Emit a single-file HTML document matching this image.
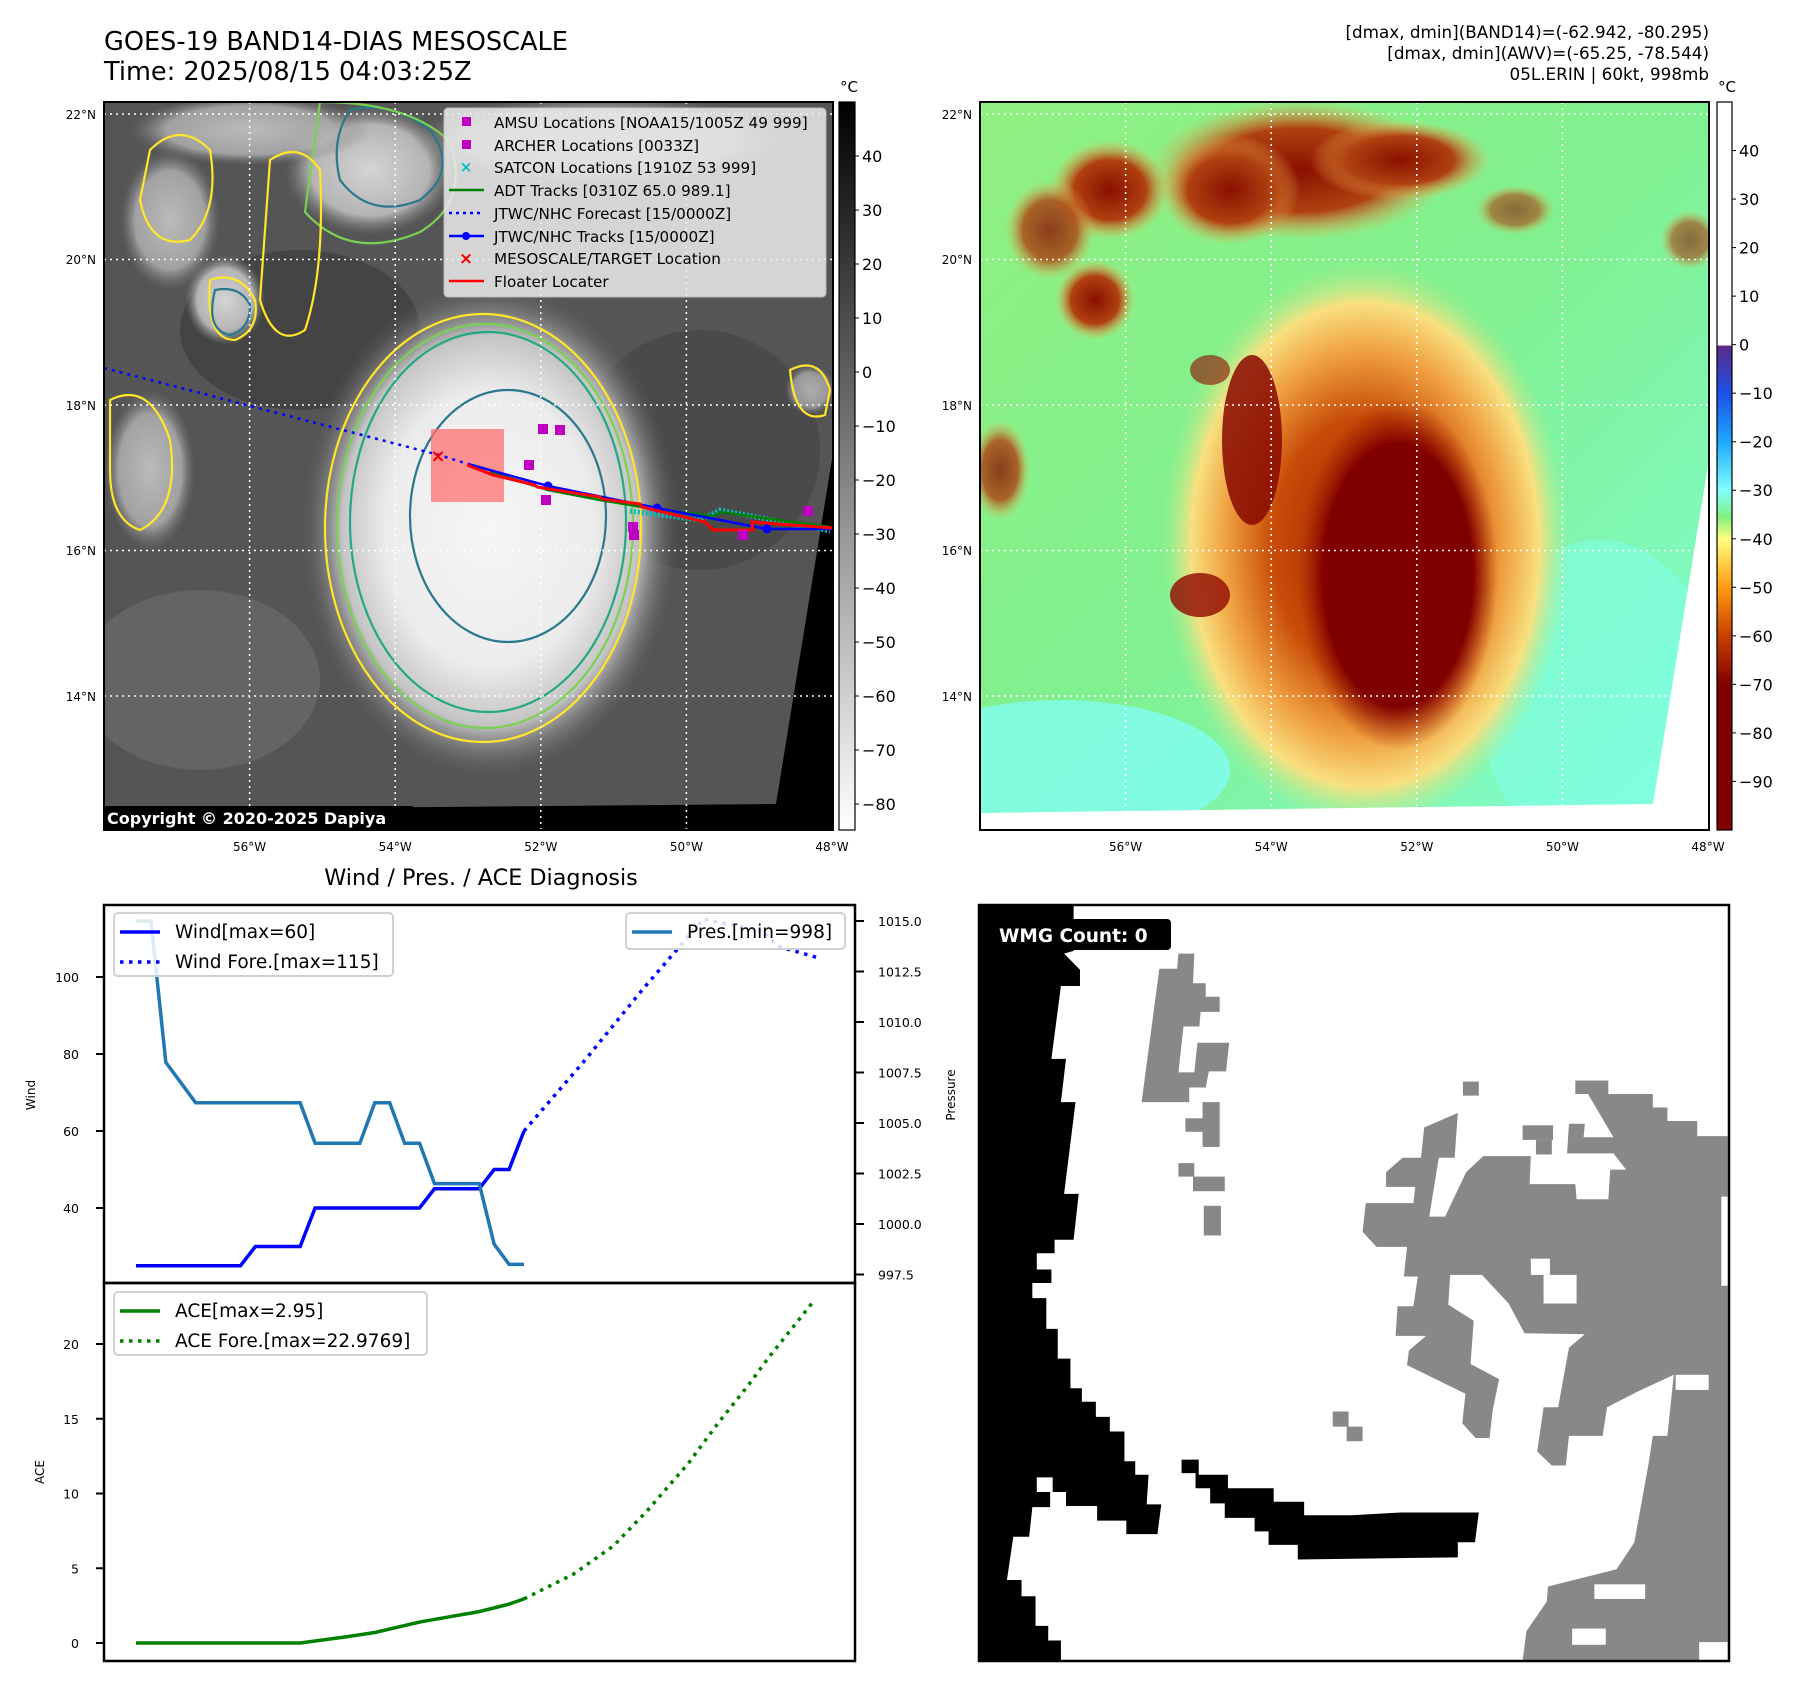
<!DOCTYPE html>
<html><head><meta charset="utf-8">
<style>
html,body{margin:0;padding:0;background:#fff;}
svg{display:block;font-family:"DejaVu Sans","Liberation Sans",sans-serif;}
</style></head>
<body>
<svg id="fig" width="1797" height="1690" viewBox="0 0 1797 1690" xmlns="http://www.w3.org/2000/svg">
<defs>
  <clipPath id="clip1"><rect x="104" y="102" width="729" height="728"/></clipPath>
  <clipPath id="clip2"><rect x="980" y="102" width="729" height="728"/></clipPath>
  <clipPath id="clip3"><rect x="979" y="905" width="750" height="756"/></clipPath>
  <radialGradient id="stormGray" cx="0.5" cy="0.5" r="0.5">
    <stop offset="0" stop-color="#f6f6f6"/><stop offset="0.55" stop-color="#ececec"/>
    <stop offset="0.78" stop-color="#c4c4c4"/><stop offset="1" stop-color="#5a5a5a" stop-opacity="0"/>
  </radialGradient>
  <radialGradient id="stormColor" cx="0.5" cy="0.5" r="0.5">
    <stop offset="0" stop-color="#a02000"/><stop offset="0.45" stop-color="#c84c08"/>
    <stop offset="0.68" stop-color="#f0a040"/><stop offset="0.85" stop-color="#f8e080"/>
    <stop offset="1" stop-color="#a8f090" stop-opacity="0"/>
  </radialGradient>
  <radialGradient id="coreColor" cx="0.5" cy="0.5" r="0.5">
    <stop offset="0" stop-color="#800000"/><stop offset="0.75" stop-color="#800000"/>
    <stop offset="1" stop-color="#a02000" stop-opacity="0"/>
  </radialGradient>
  <radialGradient id="cloudGray" cx="0.5" cy="0.5" r="0.5">
    <stop offset="0" stop-color="#d4d4d4"/><stop offset="0.7" stop-color="#b4b4b4"/><stop offset="1" stop-color="#7a7a7a" stop-opacity="0"/>
  </radialGradient>
  <radialGradient id="cloudRed" cx="0.5" cy="0.5" r="0.5">
    <stop offset="0" stop-color="#8a1000"/><stop offset="0.6" stop-color="#b04010"/><stop offset="1" stop-color="#f0b050" stop-opacity="0"/>
  </radialGradient>
  <linearGradient id="cb1" x1="0" y1="0" x2="0" y2="1">
    <stop offset="0" stop-color="#000"/><stop offset="1" stop-color="#fff"/>
  </linearGradient>
  <linearGradient id="cb2" gradientUnits="userSpaceOnUse" x1="0" y1="102" x2="0" y2="830">
    <stop offset="0" stop-color="#fff"/><stop offset="0.334" stop-color="#fff"/>
    <stop offset="0.335" stop-color="#5a2a8a"/><stop offset="0.40" stop-color="#1e50e8"/>
    <stop offset="0.467" stop-color="#1ea8ff"/><stop offset="0.533" stop-color="#80ffff"/>
    <stop offset="0.57" stop-color="#80f080"/><stop offset="0.60" stop-color="#ffff80"/>
    <stop offset="0.667" stop-color="#ff9a10"/><stop offset="0.733" stop-color="#c84000"/>
    <stop offset="0.80" stop-color="#800000"/><stop offset="1" stop-color="#800000"/>
  </linearGradient>
  <linearGradient id="bgColor" x1="0" y1="0" x2="1" y2="1">
    <stop offset="0" stop-color="#90f080"/><stop offset="0.5" stop-color="#80f090"/><stop offset="1" stop-color="#80ffd8"/>
  </linearGradient>
</defs>

<text x="104" y="50" font-size="25.6">GOES-19 BAND14-DIAS MESOSCALE</text>
<text x="104" y="80" font-size="25.6">Time: 2025/08/15 04:03:25Z</text>
<g font-size="16.8" text-anchor="end">
  <text x="1709" y="38">[dmax, dmin](BAND14)=(-62.942, -80.295)</text>
  <text x="1709" y="59">[dmax, dmin](AWV)=(-65.25, -78.544)</text>
  <text x="1709" y="80">05L.ERIN | 60kt, 998mb</text>
</g>

<!-- MAP 1 -->
<g clip-path="url(#clip1)">
  <rect x="104" y="102" width="729" height="728" fill="#555"/>
  <ellipse cx="300" cy="330" rx="120" ry="80" fill="#444"/>
  <ellipse cx="700" cy="450" rx="120" ry="120" fill="#4a4a4a"/>
  <ellipse cx="200" cy="680" rx="120" ry="90" fill="#646464"/>
  <ellipse cx="370" cy="170" rx="85" ry="65" fill="url(#cloudGray)"/>
  <ellipse cx="250" cy="130" rx="120" ry="35" fill="url(#cloudGray)" opacity="0.8"/>
  <ellipse cx="170" cy="220" rx="50" ry="70" fill="url(#cloudGray)" opacity="0.8"/>
  <ellipse cx="225" cy="300" rx="40" ry="45" fill="url(#cloudGray)"/>
  <ellipse cx="600" cy="140" rx="190" ry="45" fill="url(#cloudGray)" opacity="0.7"/>
  <ellipse cx="150" cy="470" rx="45" ry="80" fill="url(#cloudGray)" opacity="0.8"/>
  <ellipse cx="810" cy="390" rx="25" ry="25" fill="url(#cloudGray)" opacity="0.7"/>
  <ellipse cx="490" cy="530" rx="190" ry="250" fill="url(#stormGray)"/>
  <g fill="none" stroke-width="2.2">
    <ellipse cx="483" cy="528" rx="158" ry="214" stroke="#ffe62a"/>
    <ellipse cx="485" cy="526" rx="148" ry="202" stroke="#7ad151"/>
    <ellipse cx="488" cy="522" rx="138" ry="190" stroke="#22a884"/>
    <ellipse cx="508" cy="516" rx="98" ry="126" stroke="#2a788e"/>
    <path d="M350 110 q40 -10 80 20 q30 40 -10 70 q-50 20 -80 -20 q-10 -40 10 -70z" stroke="#2a788e"/>
    <path d="M320 102 q90 0 130 40 q20 60 -30 90 q-70 30 -115 -20z" stroke="#7ad151"/>
    <path d="M150 150 q30 -30 60 0 q10 60 -20 90 q-40 10 -50 -40z" stroke="#ffe62a"/>
    <path d="M270 160 q30 -20 50 10 q5 100 -15 160 q-30 20 -45 -30z" stroke="#ffe62a"/>
    <path d="M210 280 q30 -10 45 20 q5 30 -20 40 q-30 0 -25 -60z" stroke="#ffe62a"/>
    <path d="M215 290 q25 -5 35 15 q0 25 -20 30 q-25 -5 -15 -45z" stroke="#2a788e"/>
    <path d="M110 400 q40 -20 60 40 q10 70 -30 90 q-30 -10 -30 -60z" stroke="#ffe62a"/>
    <path d="M790 370 q30 -15 40 20 l-5 25 q-30 10 -35 -45z" stroke="#ffe62a"/>
  </g>
  <polygon points="832,459 833,459 833,830 104,830 104,810 776,804" fill="#000"/>
  <g stroke="#fff" stroke-width="1.5" stroke-dasharray="2,4">
    <line x1="249.6" y1="102" x2="249.6" y2="830"/><line x1="395.2" y1="102" x2="395.2" y2="830"/>
    <line x1="540.8" y1="102" x2="540.8" y2="830"/><line x1="686.4" y1="102" x2="686.4" y2="830"/>
    <line x1="104" y1="114" x2="833" y2="114"/><line x1="104" y1="259.5" x2="833" y2="259.5"/>
    <line x1="104" y1="405" x2="833" y2="405"/><line x1="104" y1="550.5" x2="833" y2="550.5"/>
    <line x1="104" y1="696" x2="833" y2="696"/>
  </g>
  <rect x="431" y="429" width="73" height="73" fill="#ff7070" opacity="0.75"/>
  <polyline points="104,368 439,455 468,464" fill="none" stroke="#0000ff" stroke-width="2.5" stroke-dasharray="3,5"/>
  <polyline points="630,511 700,520 720,510 830,531" fill="none" stroke="#00c0c0" stroke-width="5" stroke-dasharray="2,2"/>
  <polyline points="490,472 548,490 600,500 660,510 715,516 720,512 830,527" fill="none" stroke="#008000" stroke-width="2.5"/>
  <polyline points="468,464 548,486 657,508 767,529 832,529" fill="none" stroke="#0000ff" stroke-width="2.5"/>
  <g fill="#0000ff"><circle cx="548" cy="486" r="4.5"/><circle cx="657" cy="508" r="4.5"/><circle cx="767" cy="529" r="4.5"/></g>
  <polyline points="467,465 493,475 535,485 537,487 600,497 602,499 640,504 642,507 705,522 713,530 753,530 752,522 833,528" fill="none" stroke="#ff0000" stroke-width="3"/>
  <g fill="#c000c0">
    <rect x="538" y="424" width="10" height="10"/><rect x="555" y="425" width="10" height="10"/>
    <rect x="524" y="460" width="10" height="10"/><rect x="541" y="495" width="10" height="10"/>
    <rect x="628" y="522" width="10" height="10"/><rect x="629" y="530" width="10" height="10"/>
    <rect x="738" y="530" width="10" height="10"/><rect x="803" y="506" width="10" height="10"/>
  </g>
  <text x="438" y="462" font-size="18" font-weight="bold" fill="#ff0000" text-anchor="middle">×</text>
</g>
<rect x="104" y="102" width="729" height="728" fill="none" stroke="#000" stroke-width="2"/>
<g>
  <rect x="444" y="108" width="382" height="189" rx="4" fill="#ececec" opacity="0.85" stroke="#ccc"/>
  <g font-size="15.2">
    <rect x="462" y="117" width="9" height="9" fill="#c000c0"/><text x="494" y="128">AMSU Locations [NOAA15/1005Z 49 999]</text>
    <rect x="462" y="140" width="9" height="9" fill="#c000c0"/><text x="494" y="151">ARCHER Locations [0033Z]</text>
    <text x="466" y="172" fill="#00c0c0" text-anchor="middle" font-weight="bold" font-size="15">×</text><text x="494" y="173">SATCON Locations [1910Z 53 999]</text>
    <line x1="449" y1="190" x2="484" y2="190" stroke="#008000" stroke-width="2.5"/><text x="494" y="196">ADT Tracks [0310Z 65.0 989.1]</text>
    <line x1="449" y1="213" x2="484" y2="213" stroke="#0000ff" stroke-width="2.5" stroke-dasharray="3,4"/><text x="494" y="219">JTWC/NHC Forecast [15/0000Z]</text>
    <line x1="449" y1="236" x2="484" y2="236" stroke="#0000ff" stroke-width="2.5"/><circle cx="466" cy="236" r="4" fill="#0000ff"/><text x="494" y="242">JTWC/NHC Tracks [15/0000Z]</text>
    <text x="466" y="264" fill="#ff0000" text-anchor="middle" font-weight="bold" font-size="17">×</text><text x="494" y="264">MESOSCALE/TARGET Location</text>
    <line x1="449" y1="281" x2="484" y2="281" stroke="#ff0000" stroke-width="2.5"/><text x="494" y="287">Floater Locater</text>
  </g>
</g>
<g>
  <rect x="104" y="806" width="310" height="24" rx="3" fill="#000"/>
  <text x="107" y="824" font-size="16" font-weight="bold" fill="#fff">Copyright © 2020-2025 Dapiya</text>
</g>

<!-- MAP 2 -->
<g clip-path="url(#clip2)">
  <rect x="980" y="102" width="729" height="728" fill="url(#bgColor)"/>
  <ellipse cx="1060" cy="770" rx="170" ry="70" fill="#80ffff" opacity="0.7"/>
  <ellipse cx="1600" cy="700" rx="120" ry="160" fill="#80ffe8" opacity="0.6"/>
  <ellipse cx="1300" cy="170" rx="150" ry="70" fill="url(#cloudRed)"/>
  <ellipse cx="1400" cy="160" rx="90" ry="40" fill="url(#cloudRed)"/>
  <ellipse cx="1230" cy="190" rx="70" ry="55" fill="url(#cloudRed)"/>
  <ellipse cx="1110" cy="190" rx="60" ry="50" fill="url(#cloudRed)"/>
  <ellipse cx="1095" cy="300" rx="40" ry="40" fill="url(#cloudRed)"/>
  <ellipse cx="1050" cy="230" rx="45" ry="50" fill="url(#cloudRed)" opacity="0.8"/>
  <ellipse cx="1000" cy="470" rx="30" ry="50" fill="url(#cloudRed)" opacity="0.8"/>
  <ellipse cx="1515" cy="210" rx="40" ry="25" fill="url(#cloudRed)" opacity="0.6"/>
  <ellipse cx="1690" cy="240" rx="30" ry="30" fill="url(#cloudRed)" opacity="0.6"/>
  <ellipse cx="1365" cy="545" rx="205" ry="285" fill="url(#stormColor)"/>
  <ellipse cx="1398" cy="575" rx="100" ry="175" fill="url(#coreColor)"/>
  <ellipse cx="1252" cy="440" rx="30" ry="85" fill="#880800" opacity="0.85"/>
  <ellipse cx="1200" cy="595" rx="30" ry="22" fill="#900800" opacity="0.8"/>
  <ellipse cx="1210" cy="370" rx="20" ry="15" fill="#900800" opacity="0.6"/>
  <polygon points="1709,459 1710,459 1710,830 980,830 980,813 1653,804" fill="#fff"/>
  <g stroke="#fff" stroke-width="1.5" stroke-dasharray="2,4">
    <line x1="1125.6" y1="102" x2="1125.6" y2="830"/><line x1="1271.2" y1="102" x2="1271.2" y2="830"/>
    <line x1="1416.8" y1="102" x2="1416.8" y2="830"/><line x1="1562.4" y1="102" x2="1562.4" y2="830"/>
    <line x1="980" y1="114" x2="1709" y2="114"/><line x1="980" y1="259.5" x2="1709" y2="259.5"/>
    <line x1="980" y1="405" x2="1709" y2="405"/><line x1="980" y1="550.5" x2="1709" y2="550.5"/>
    <line x1="980" y1="696" x2="1709" y2="696"/>
  </g>
</g>
<rect x="980" y="102" width="729" height="728" fill="none" stroke="#000" stroke-width="2"/>

<g font-size="12">
  <g text-anchor="end">
    <text x="96" y="119">22°N</text><text x="96" y="264">20°N</text><text x="96" y="410">18°N</text><text x="96" y="555">16°N</text><text x="96" y="701">14°N</text>
    <text x="972" y="119">22°N</text><text x="972" y="264">20°N</text><text x="972" y="410">18°N</text><text x="972" y="555">16°N</text><text x="972" y="701">14°N</text>
  </g>
  <g text-anchor="middle">
    <text x="249.6" y="851">56°W</text><text x="395.2" y="851">54°W</text><text x="540.8" y="851">52°W</text><text x="686.4" y="851">50°W</text><text x="832" y="851">48°W</text>
    <text x="1125.6" y="851">56°W</text><text x="1271.2" y="851">54°W</text><text x="1416.8" y="851">52°W</text><text x="1562.4" y="851">50°W</text><text x="1708" y="851">48°W</text>
  </g>
</g>

<g>
  <rect x="839" y="102" width="16" height="728" fill="url(#cb1)" stroke="#000" stroke-width="1.2"/>
  <text x="849" y="92" font-size="15" text-anchor="middle">°C</text>
  <g id="cb1ticks" font-size="16"></g>
</g>
<g>
  <rect x="1717" y="102" width="15" height="728" fill="url(#cb2)" stroke="#000" stroke-width="1.2"/>
  <text x="1727" y="92" font-size="15" text-anchor="middle">°C</text>
  <g id="cb2ticks" font-size="16"></g>
</g>

<text x="481" y="885" font-size="22.3" text-anchor="middle">Wind / Pres. / ACE Diagnosis</text>

<g id="ts"></g>

<!-- WMG panel -->
<g clip-path="url(#clip3)">
  <rect x="979" y="905" width="750" height="756" fill="#fff"/>
  <svg x="979" y="905" width="750" height="756" viewBox="281 100 1181 1400" preserveAspectRatio="none">
    <polygon fill="#888" points="1220,425 1272,425 1272,450 1342,450 1342,475 1365,475 1365,500 1412,500 1412,528 1460,528 1460,1500 1137,1500 1143,1445 1175,1390 1177,1362 1285,1330 1313,1280 1335,1137 1342,1083 1365,1083 1375,970 1320,1000 1270,1030 1263,1083 1210,1083 1205,1138 1183,1138 1160,1112 1170,1030 1193,1030 1210,920 1235,895 1140,893 1115,838 1073,785 1023,785 1020,840 1060,870 1055,950 1100,978 1090,1035 1085,1087 1063,1087 1042,1060 1047,1005 1000,978 955,952 958,925 985,898 937,898 940,843 965,843 972,788 950,788 955,733 907,733 885,705 890,652 965,652 968,622 922,622 922,595 948,568 977,568 982,512 1035,485 1030,568 1005,568 990,677 1015,677 1048,595 1075,565 1150,565 1148,617 1220,617 1222,645 1272,645 1275,590 1300,590 1280,560 1207,560 1210,505 1235,505 1233,530 1280,530 1240,450 1220,450"/>
    <g fill="#888">
      <polygon points="595,190 620,190 618,245 638,245 638,270 660,270 660,298 630,298 628,325 603,325 595,410 620,410 625,355 675,355 670,408 643,408 638,438 612,438 612,465 537,465 565,218 593,218"/>
      <rect x="633" y="465" width="27" height="83"/><rect x="606" y="495" width="29" height="25"/>
      <rect x="595" y="578" width="25" height="25"/><rect x="618" y="603" width="50" height="27"/>
      <rect x="635" y="657" width="27" height="55"/><rect x="1043" y="427" width="25" height="26"/>
      <rect x="838" y="1038" width="25" height="28"/><rect x="860" y="1066" width="25" height="27"/>
      <rect x="1137" y="508" width="48" height="27"/><rect x="1158" y="535" width="25" height="27"/>
    </g>
    <g fill="#fff">
      <rect x="1150" y="755" width="30" height="30"/><rect x="1170" y="785" width="52" height="53"/>
      <rect x="1250" y="1358" width="80" height="27"/><rect x="1215" y="1440" width="53" height="30"/>
      <rect x="1378" y="970" width="52" height="28"/><rect x="1415" y="1465" width="45" height="35"/>
      <rect x="1450" y="640" width="12" height="165"/>
    </g>
    <polygon fill="#000" points="281,100 430,100 430,185 415,190 440,220 440,250 410,250 395,385 418,385 410,465 433,465 415,635 438,635 430,720 400,720 400,745 372,745 372,775 395,775 395,800 365,800 365,828 387,828 387,885 405,885 405,940 425,940 425,995 443,995 443,1020 465,1020 465,1048 487,1048 487,1075 510,1075 510,1130 527,1130 527,1155 548,1155 545,1210 568,1210 562,1265 513,1265 513,1240 467,1240 467,1213 418,1213 418,1187 397,1187 397,1160 372,1160 372,1187 393,1187 393,1215 365,1215 360,1270 335,1270 325,1350 348,1350 348,1380 370,1380 370,1435 390,1435 390,1462 410,1462 410,1500 281,1500"/>
    <polygon fill="#000" points="600,1127 627,1127 627,1155 673,1155 673,1180 745,1180 745,1205 793,1205 793,1230 868,1230 945,1225 1068,1225 1062,1280 1035,1280 1035,1308 783,1312 783,1285 737,1285 737,1260 715,1260 715,1235 668,1235 668,1208 645,1208 645,1180 622,1180 622,1152 600,1152"/>
  </svg>
</g>
<rect x="979" y="905" width="750" height="756" fill="none" stroke="#000" stroke-width="2.5"/>
<g>
  <rect x="991" y="919" width="180" height="31" rx="4" fill="#000"/>
  <text x="999" y="942" font-size="18.5" font-weight="bold" fill="#fff">WMG Count: 0</text>
</g>

<script>
// ---- time-series data ----
const windIdx = [0,1,2,3,4,5,6,7,8,9,10,11,12,13,14,15,16,17,18,19,20,21,22,23,24,25,26];
const windVals = [25,25,25,25,25,25,25,25,30,30,30,30,40,40,40,40,40,40,40,40,45,45,45,45,50,50,60];
const foreIdx = [26,30,34,38,42,43,45.7];
const foreVals = [60,78,97,115,112,108,105];
const presVals = [1015,1015,1008,1007,1006,1006,1006,1006,1006,1006,1006,1006,1004,1004,1004,1004,1006,1006,1004,1004,1002,1002,1002,1002,999,998,998];
const aceIdx = [0,11,14,16,19,21,23,25,26];
const aceVals = [0,0,0.4,0.7,1.4,1.75,2.1,2.6,2.95];
const aceForeIdx = [26,29.3,32,34.3,37,39,41,42.4,44,45.5];
const aceForeVals = [2.95,4.6,6.5,8.9,12,14.7,17.2,19.1,21.1,22.98];
const windTicks = [40,60,80,100];
const presTicks = [997.5,1000.0,1002.5,1005.0,1007.5,1010.0,1012.5,1015.0];
const aceTicks = [0,5,10,15,20];
const cb1Ticks = [40,30,20,10,0,-10,-20,-30,-40,-50,-60,-70,-80];
const cb2Ticks = [40,30,20,10,0,-10,-20,-30,-40,-50,-60,-70,-80,-90];

const NS = 'http://www.w3.org/2000/svg';
const xS = i => 136 + i * (524 - 136) / 26;
const yW = w => 1208 - (w - 40) * 3.85;
const yP = p => 921 + (1015 - p) * 20.2;
const yA = a => 1643 - a * 14.95;
const ycb1 = v => 156 + (40 - v) * 5.4;
const ycb2 = v => 102 + (50 - v) * 4.853;

function mk(tag, attrs, parent) {
  const e = document.createElementNS(NS, tag);
  for (const k in attrs) e.setAttribute(k, attrs[k]);
  parent.appendChild(e);
  return e;
}
function pts(xs, ys, fx, fy) { return xs.map((x, k) => fx(x) + ',' + fy(ys[k])).join(' '); }

const c1 = document.getElementById('cb1ticks');
cb1Ticks.forEach(v => {
  mk('line', {x1: 855, x2: 859, y1: ycb1(v), y2: ycb1(v), stroke: '#000'}, c1);
  const t = mk('text', {x: 862, y: ycb1(v) + 6}, c1);
  
  
  t.textContent = v < 0 ? '\u2212' + (-v) : String(v);
});
const c2 = document.getElementById('cb2ticks');
cb2Ticks.forEach(v => {
  mk('line', {x1: 1732, x2: 1736, y1: ycb2(v), y2: ycb2(v), stroke: '#000'}, c2);
  const t = mk('text', {x: 1739, y: ycb2(v) + 6}, c2);
  
  
  t.textContent = v < 0 ? '\u2212' + (-v) : String(v);
});

const ts = document.getElementById('ts');
mk('rect', {x: 104, y: 905, width: 751, height: 378, fill: 'none', stroke: '#000', 'stroke-width': 2.5}, ts);
mk('rect', {x: 104, y: 1283, width: 751, height: 378, fill: 'none', stroke: '#000', 'stroke-width': 2.5}, ts);

windTicks.forEach(v => {
  mk('line', {x1: 96, x2: 104, y1: yW(v), y2: yW(v), stroke: '#000', 'stroke-width': 2}, ts);
  const t = mk('text', {x: 79, y: yW(v) + 5, 'font-size': 12.5, 'text-anchor': 'end'}, ts);
  
  
  t.textContent = v;
});
presTicks.forEach(v => {
  mk('line', {x1: 855, x2: 864, y1: yP(v), y2: yP(v), stroke: '#000', 'stroke-width': 2}, ts);
  const t = mk('text', {x: 878, y: yP(v) + 5, 'font-size': 12.5}, ts);
  
  
  t.textContent = v.toFixed(1);
});
aceTicks.forEach(v => {
  mk('line', {x1: 96, x2: 104, y1: yA(v), y2: yA(v), stroke: '#000', 'stroke-width': 2}, ts);
  const t = mk('text', {x: 79, y: yA(v) + 5, 'font-size': 12.5, 'text-anchor': 'end'}, ts);
  
  
  t.textContent = v;
});
const at1 = mk('text', {x: 35, y: 1095, 'font-size': 12, 'text-anchor': 'middle', transform: 'rotate(-90 35 1095)'}, ts);


at1.textContent = 'Wind';
const at2 = mk('text', {x: 955, y: 1095, 'font-size': 12, 'text-anchor': 'middle', transform: 'rotate(-90 955 1095)'}, ts);


at2.textContent = 'Pressure';
const at3 = mk('text', {x: 44, y: 1472, 'font-size': 12, 'text-anchor': 'middle', transform: 'rotate(-90 44 1472)'}, ts);


at3.textContent = 'ACE';

const wl = mk('polyline', {points: pts(windIdx, windVals, xS, yW), fill: 'none', stroke: '#0000ff', 'stroke-width': 3.5}, ts);


const wf = mk('polyline', {points: pts(foreIdx, foreVals, xS, yW), fill: 'none', stroke: '#0000ff', 'stroke-width': 3.5, 'stroke-dasharray': '3.5,5.5'}, ts);


const pl = mk('polyline', {points: pts(windIdx, presVals, xS, yP), fill: 'none', stroke: '#1f77b4', 'stroke-width': 3.5}, ts);


const al = mk('polyline', {points: pts(aceIdx, aceVals, xS, yA), fill: 'none', stroke: '#008000', 'stroke-width': 3.5}, ts);


const af = mk('polyline', {points: pts(aceForeIdx, aceForeVals, xS, yA), fill: 'none', stroke: '#008000', 'stroke-width': 3.5, 'stroke-dasharray': '3.5,5.5'}, ts);



function legend(x, y, w, h, items, name) {
  const g = mk('g', {}, ts);
  
  
  mk('rect', {x: x, y: y, width: w, height: h, rx: 4, fill: '#fff', 'fill-opacity': 0.85, stroke: '#d0d0d0', 'stroke-width': 2}, g);
  items.forEach((it, k) => {
    const cy = y + 19 + k * 30;
    const a = {x1: x + 6, x2: x + 46, y1: cy, y2: cy, stroke: it.c, 'stroke-width': 3.5};
    if (it.d) a['stroke-dasharray'] = '3.5,5.5';
    mk('line', a, g);
    const t = mk('text', {x: x + 61, y: cy + 6, 'font-size': 18.5}, g);
    t.textContent = it.t;
  });
}
legend(114, 913, 279, 63, [{c: '#0000ff', t: 'Wind[max=60]'}, {c: '#0000ff', t: 'Wind Fore.[max=115]', d: 1}], 'wind-legend');
legend(626, 913, 219, 36, [{c: '#1f77b4', t: 'Pres.[min=998]'}], 'pressure-legend');
legend(114, 1292, 313, 63, [{c: '#008000', t: 'ACE[max=2.95]'}, {c: '#008000', t: 'ACE Fore.[max=22.9769]', d: 1}], 'ace-legend');
</script>
</svg>
</body></html>
